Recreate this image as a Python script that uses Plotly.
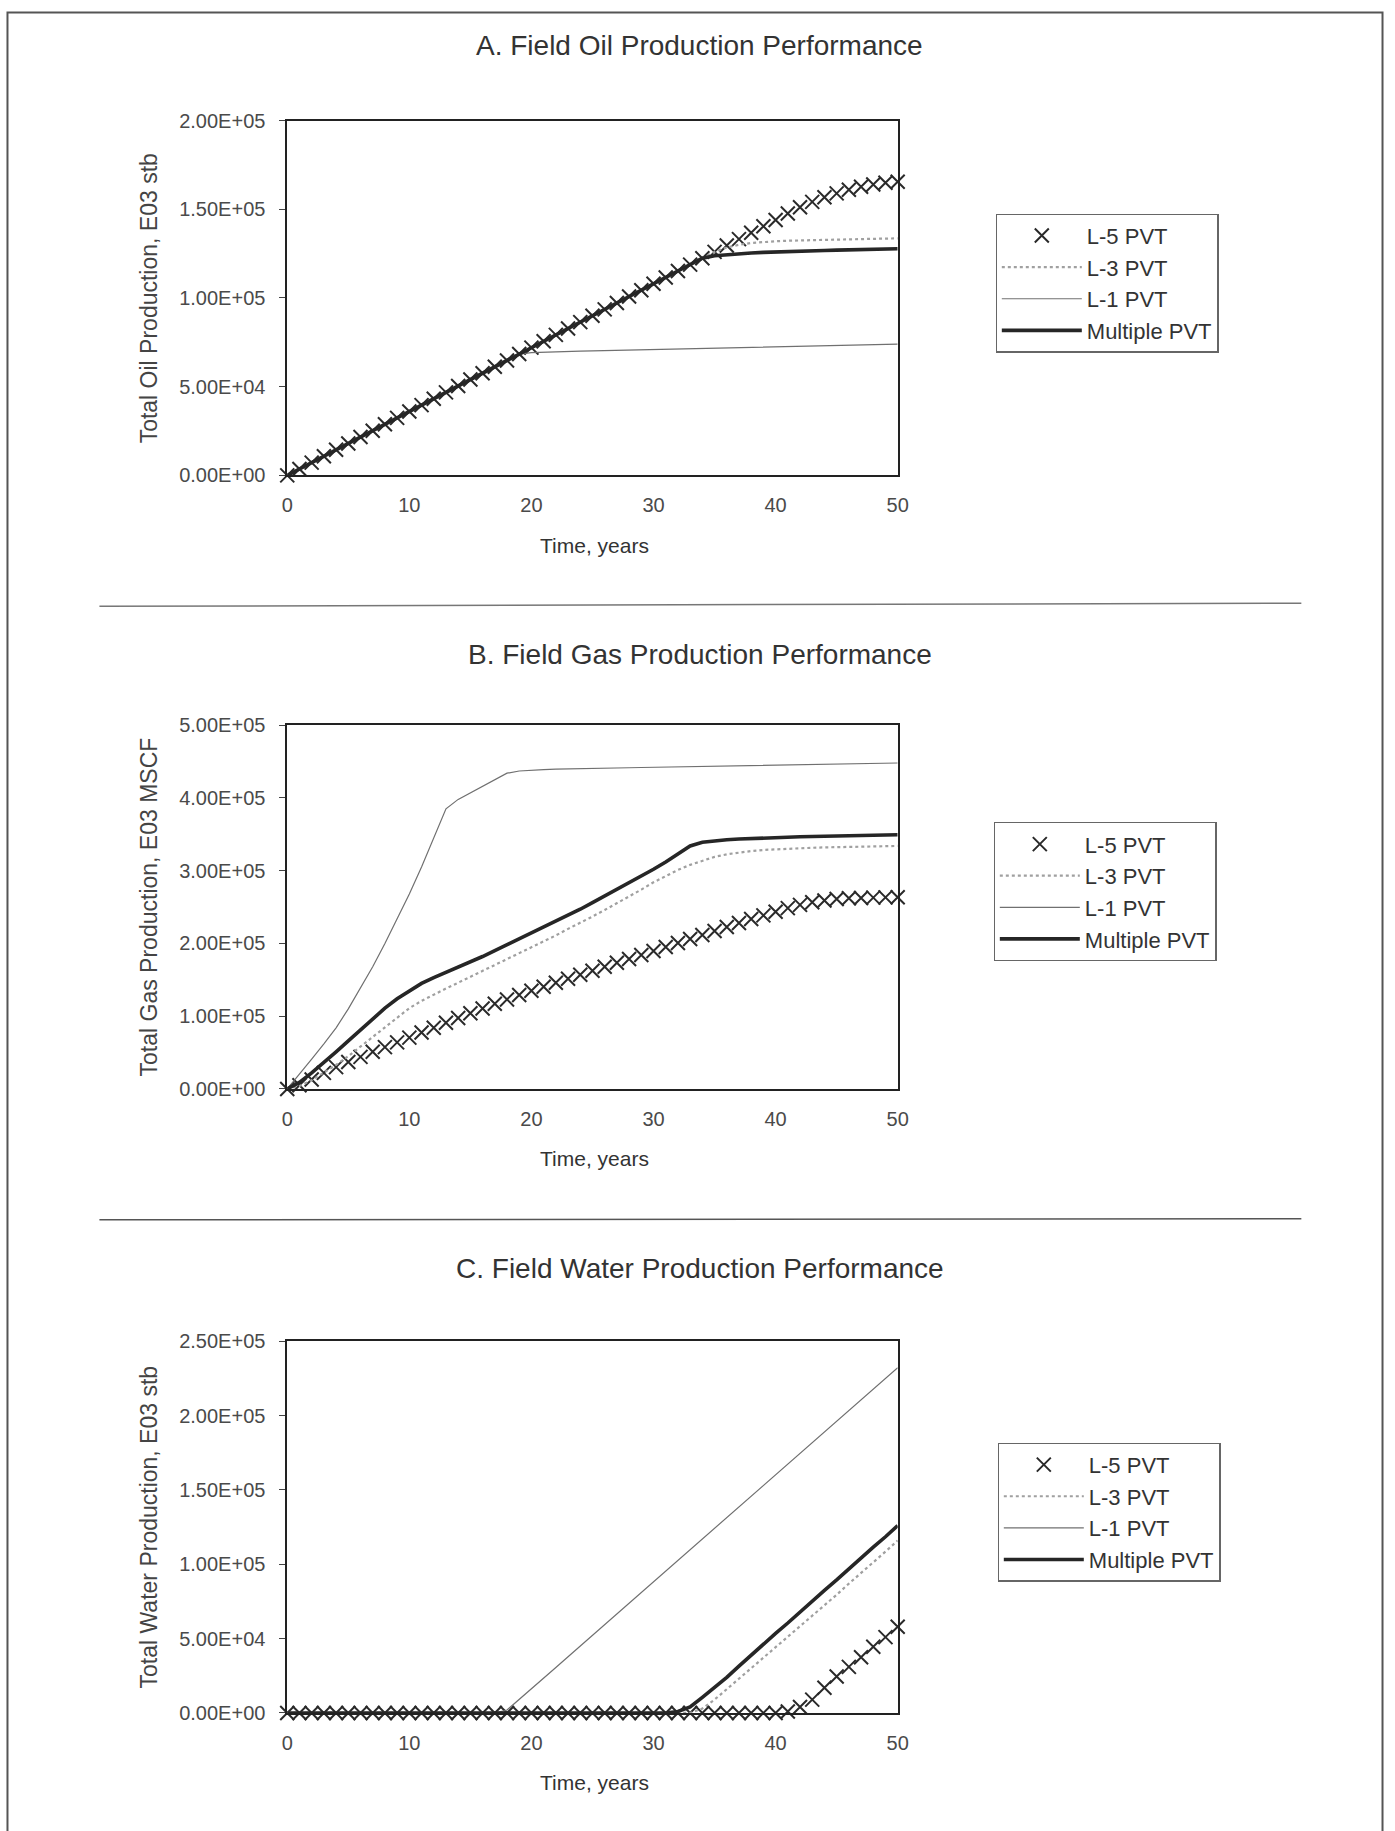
import plotly.graph_objects as go

# ---------------- data ----------------
time_years = [0, 1, 2, 3, 4, 5, 6, 7, 8, 9, 10, 11, 12, 13, 14, 15, 16, 17, 18, 19, 20,
              21, 22, 23, 24, 25, 26, 27, 28, 29, 30, 31, 32, 33, 34, 35, 36, 37, 38, 39, 40,
              41, 42, 43, 44, 45, 46, 47, 48, 49, 50]

series_names = ["L-5 PVT", "L-3 PVT", "L-1 PVT", "Multiple PVT"]

# A. Field oil production (E03 stb)
oil_l5 = [0, 3600, 7200, 10800, 14400, 18000, 21600, 25200, 28800, 32400, 36000, 39600, 43200,
          46800, 50400, 54000, 57600, 61200, 64800, 68400, 72000, 75600, 79200, 82800, 86400,
          90000, 93600, 97200, 100800, 104400, 108000, 111600, 115200, 118800, 122400, 126000,
          129600, 133200, 136800, 140400, 144000, 147600, 151200, 154200, 156800, 159000,
          161000, 162700, 164000, 165000, 165500]
oil_l3 = [0, 3600, 7200, 10800, 14400, 18000, 21600, 25200, 28800, 32400, 36000, 39600, 43200,
          46800, 50400, 54000, 57600, 61200, 64800, 68400, 72000, 75600, 79200, 82800, 86400,
          90000, 93600, 97200, 100800, 104400, 108000, 111600, 115200, 118800, 122400, 126000,
          128500, 130000, 131000, 131600, 132000, 132300, 132500, 132700, 132900, 133000,
          133200, 133300, 133400, 133500, 133600]
oil_l1 = [0, 3600, 7200, 10800, 14400, 18000, 21600, 25200, 28800, 32400, 36000, 39600, 43200,
          46800, 50400, 54000, 57600, 61200, 64800, 68400, 69200, 69500, 69700, 69850, 70000,
          70150, 70300, 70450, 70600, 70750, 70900, 71050, 71200, 71350, 71500, 71650, 71800,
          71950, 72100, 72250, 72400, 72550, 72700, 72850, 73000, 73150, 73300, 73450, 73600,
          73800, 74000]
oil_multi = [0, 3600, 7200, 10800, 14400, 18000, 21600, 25200, 28800, 32400, 36000, 39600, 43200,
             46800, 50400, 54000, 57600, 61200, 64800, 68400, 72000, 75600, 79200, 82800, 86400,
             90000, 93600, 97200, 100800, 104400, 108000, 111600, 115200, 118800, 122400, 123800,
             124500, 125000, 125400, 125700, 126000, 126200, 126400, 126600, 126800, 127000,
             127200, 127400, 127500, 127700, 127800]

# B. Field gas production (E03 MSCF)
gas_l5 = [0, 5000, 13000, 22000, 30000, 37000, 44000, 51000, 57500, 64000, 70500, 77500, 84000,
          91000, 97500, 104000, 110500, 117000, 123000, 129000, 135000, 140500, 146000, 151500,
          157000, 162500, 168000, 173500, 178500, 184000, 189500, 195000, 200500, 206000, 211500,
          217000, 222500, 228000, 233500, 238500, 243500, 248500, 253000, 256500, 259000, 261000,
          262000, 262500, 263000, 263300, 263500]
gas_l3 = [0, 4000, 12000, 22000, 33000, 45000, 58000, 71000, 84000, 98000, 111000, 121000, 130000,
          138000, 146000, 154000, 162000, 170000, 178000, 186000, 194000, 202000, 211000, 220000,
          228000, 237000, 246000, 255000, 264500, 274000, 284000, 293000, 301000, 308000, 314000,
          319000, 322500, 325000, 327000, 328500, 329500, 330300, 331000, 331500, 332000, 332400,
          332800, 333100, 333400, 333700, 334000]
gas_l1 = [0, 20000, 41000, 62000, 84000, 110000, 138000, 168000, 200000, 234000, 268000, 305000,
          344000, 385000, 398000, 407000, 416000, 426000, 434000, 437000, 438500, 439000, 439500,
          440000, 440300, 440600, 440900, 441200, 441500, 441800, 442100, 442400, 442700, 443000,
          443300, 443600, 443900, 444200, 444500, 444800, 445100, 445400, 445700, 446000, 446300,
          446600, 446900, 447200, 447500, 447800, 448000]
gas_multi = [0, 9000, 22000, 36000, 51000, 66000, 81000, 96000, 111000, 124000, 135000, 145000,
             153000, 160000, 167000, 174000, 182000, 190000, 198000, 206000, 214000, 222000,
             230000, 238500, 247000, 256000, 265000, 274000, 283000, 292000, 302000, 312000,
             323000, 334000, 339000, 341000, 342500, 343500, 344300, 345000, 345600, 346100,
             346600, 347000, 347400, 347800, 348200, 348500, 348800, 349100, 349400]

# C. Field water production (E03 stb)
water_l5 = [0, 0, 0, 0, 0, 0, 0, 0, 0, 0, 0, 0, 0, 0, 0, 0, 0, 0, 0, 0, 0, 0, 0, 0, 0, 0, 0, 0,
            0, 0, 0, 0, 0, 0, 0, 0, 0, 0, 0, 0, 0, 1000, 4000, 9000, 17000, 24500, 31000, 37500,
            44500, 51000, 58000]
water_l3 = [0, 0, 0, 0, 0, 0, 0, 0, 0, 0, 0, 0, 0, 0, 0, 0, 0, 0, 0, 0, 0, 0, 0, 0, 0, 0, 0, 0,
            0, 0, 0, 0, 0, 0, 3000, 9000, 16000, 23000, 30000, 37000, 44000, 51000, 58000, 65000,
            72000, 79500, 87000, 94000, 101500, 108500, 116000]
water_l1 = [0, 0, 0, 0, 0, 0, 0, 0, 0, 0, 0, 0, 0, 0, 0, 0, 0, 0, 2000, 9000, 16200, 23400, 30600,
            37800, 45000, 52200, 59400, 66600, 73800, 81000, 88200, 95400, 102600, 109800, 117000,
            124200, 131400, 138600, 145800, 153000, 160200, 167400, 174600, 181800, 189000,
            196200, 203400, 210600, 217800, 225000, 232200]
water_multi = [0, 0, 0, 0, 0, 0, 0, 0, 0, 0, 0, 0, 0, 0, 0, 0, 0, 0, 0, 0, 0, 0, 0, 0, 0, 0, 0,
               0, 0, 0, 0, 0, 1000, 4000, 10500, 17000, 24000, 31500, 39000, 46000, 53500, 60500,
               68000, 75000, 82500, 89500, 97000, 104000, 111500, 118500, 126000]

x_tick_vals = [0, 10, 20, 30, 40, 50]
oil_tick_vals = [0, 50000, 100000, 150000, 200000]
oil_tick_text = ["0.00E+00", "5.00E+04", "1.00E+05", "1.50E+05", "2.00E+05"]
gas_tick_vals = [0, 100000, 200000, 300000, 400000, 500000]
gas_tick_text = ["0.00E+00", "1.00E+05", "2.00E+05", "3.00E+05", "4.00E+05", "5.00E+05"]
water_tick_vals = [0, 50000, 100000, 150000, 200000, 250000]
water_tick_text = ["0.00E+00", "5.00E+04", "1.00E+05", "1.50E+05", "2.00E+05", "2.50E+05"]

panel_titles = ["A. Field Oil Production Performance",
                "B. Field Gas Production Performance",
                "C. Field Water Production Performance"]
y_titles = ["Total Oil Production, E03 stb",
            "Total Gas Production, E03 MSCF",
            "Total Water Production, E03 stb"]
x_title = "Time, years"

# ---------------- layout helpers ----------------
W, H = 1395, 1831
FONT = "Arial, 'Liberation Sans', sans-serif"
# calibration between requested positions and where they land in the captured page
S, OX, OY = 0.9887, 5.5, 8.3


def px(x):
    return ((x - OX) / S) / W


def py(y):
    return 1 - ((y - OY) / S) / H


panels = [
    dict(data=[oil_l5, oil_l3, oil_l1, oil_multi], top=118, bottom=473,
         tv=oil_tick_vals, tt=oil_tick_text, title_y=43, legend_xy=(996, 211)),
    dict(data=[gas_l5, gas_l3, gas_l1, gas_multi], top=723, bottom=1087,
         tv=gas_tick_vals, tt=gas_tick_text, title_y=652, legend_xy=(994, 820)),
    dict(data=[water_l5, water_l3, water_l1, water_multi], top=1339.5, bottom=1711.5,
         tv=water_tick_vals, tt=water_tick_text, title_y=1267, legend_xy=(998, 1441)),
]
PLOT_L, PLOT_R = 287, 898

styles = [
    dict(mode="markers", marker=dict(symbol="x-thin", size=14, color="#2a2a2a",
                                     line=dict(width=2, color="#2a2a2a"))),
    dict(mode="lines", line=dict(color="#a0a0a0", width=2.2, dash="dot")),
    dict(mode="lines", line=dict(color="#707070", width=1.2)),
    dict(mode="lines", line=dict(color="#262626", width=3.6)),
]

fig = go.Figure()
layout = dict(width=W, height=H, margin=dict(l=0, r=0, t=0, b=0),
              paper_bgcolor="white", plot_bgcolor="white",
              font=dict(family=FONT, color="#333333"),
              showlegend=True, annotations=[], shapes=[])

for i, p in enumerate(panels):
    n = "" if i == 0 else str(i + 1)
    leg = "legend" + n
    for k, (name, vals, st) in enumerate(zip(series_names, p["data"], styles)):
        fig.add_trace(go.Scatter(x=time_years, y=vals, name=name, xaxis="x" + n, yaxis="y" + n,
                                 legend=leg, legendgroup=f"p{i}s{k}", cliponaxis=False,
                                 hoverinfo="x+y+name", **st))
    axis_common = dict(showline=True, linecolor="#222222", linewidth=1.7, mirror=True,
                       showgrid=False, zeroline=False, tickcolor="#444444",
                       tickfont=dict(family=FONT, size=20, color="#4a4a4a"))
    layout["xaxis" + n] = dict(domain=[px(PLOT_L), px(PLOT_R)], range=[0, 50], anchor="y" + n,
                               tickvals=x_tick_vals, ticks="", ticklabelstandoff=11,
                               **axis_common)
    layout["yaxis" + n] = dict(domain=[py(p["bottom"]), py(p["top"])], range=[0, p["tv"][-1]],
                               anchor="x" + n, tickvals=p["tv"], ticktext=p["tt"],
                               ticks="outside", ticklen=6, ticklabelstandoff=10, **axis_common)
    lx, ly = p["legend_xy"]
    layout[leg] = dict(x=px(lx), y=py(ly), xanchor="left", yanchor="top",
                       bordercolor="#666666", borderwidth=1.2, bgcolor="white",
                       font=dict(family=FONT, size=22, color="#333333"), itemwidth=80,
                       traceorder="grouped", tracegroupgap=0)
    # panel title
    layout["annotations"].append(dict(text=panel_titles[i], x=px(700), y=py(p["title_y"]),
                                      xref="paper", yref="paper", showarrow=False,
                                      xanchor="center", yanchor="middle",
                                      font=dict(family=FONT, size=28, color="#333333")))
    # y-axis title
    layout["annotations"].append(dict(text=y_titles[i], x=px(149),
                                      y=py((p["top"] + p["bottom"]) / 2),
                                      xref="paper", yref="paper", showarrow=False, textangle=-90,
                                      xanchor="center", yanchor="middle",
                                      font=dict(family=FONT, size=23, color="#444444")))
    # x-axis title
    layout["annotations"].append(dict(text=x_title, x=px(595), y=py(p["bottom"] + 70),
                                      xref="paper", yref="paper", showarrow=False,
                                      xanchor="center", yanchor="middle",
                                      font=dict(family=FONT, size=21, color="#333333")))

# outer page frame and separators
layout["shapes"] = [
    dict(type="rect", xref="paper", yref="paper", x0=1.5 / W, x1=1393.5 / W,
         y0=-0.01, y1=1 - 1.5 / H, line=dict(color="#555555", width=2)),
    dict(type="line", xref="paper", yref="paper", x0=px(99), x1=px(1302), y0=py(604), y1=py(601),
         line=dict(color="#777777", width=1.5)),
    dict(type="line", xref="paper", yref="paper", x0=px(99), x1=px(1302), y0=py(1218),
         y1=py(1217), line=dict(color="#555555", width=1.5)),
]

fig.update_layout(**layout)
fig.write_html("out.html", config={"displayModeBar": False},
               post_script="document.body.style.margin='0';document.body.style.overflow='hidden';")
